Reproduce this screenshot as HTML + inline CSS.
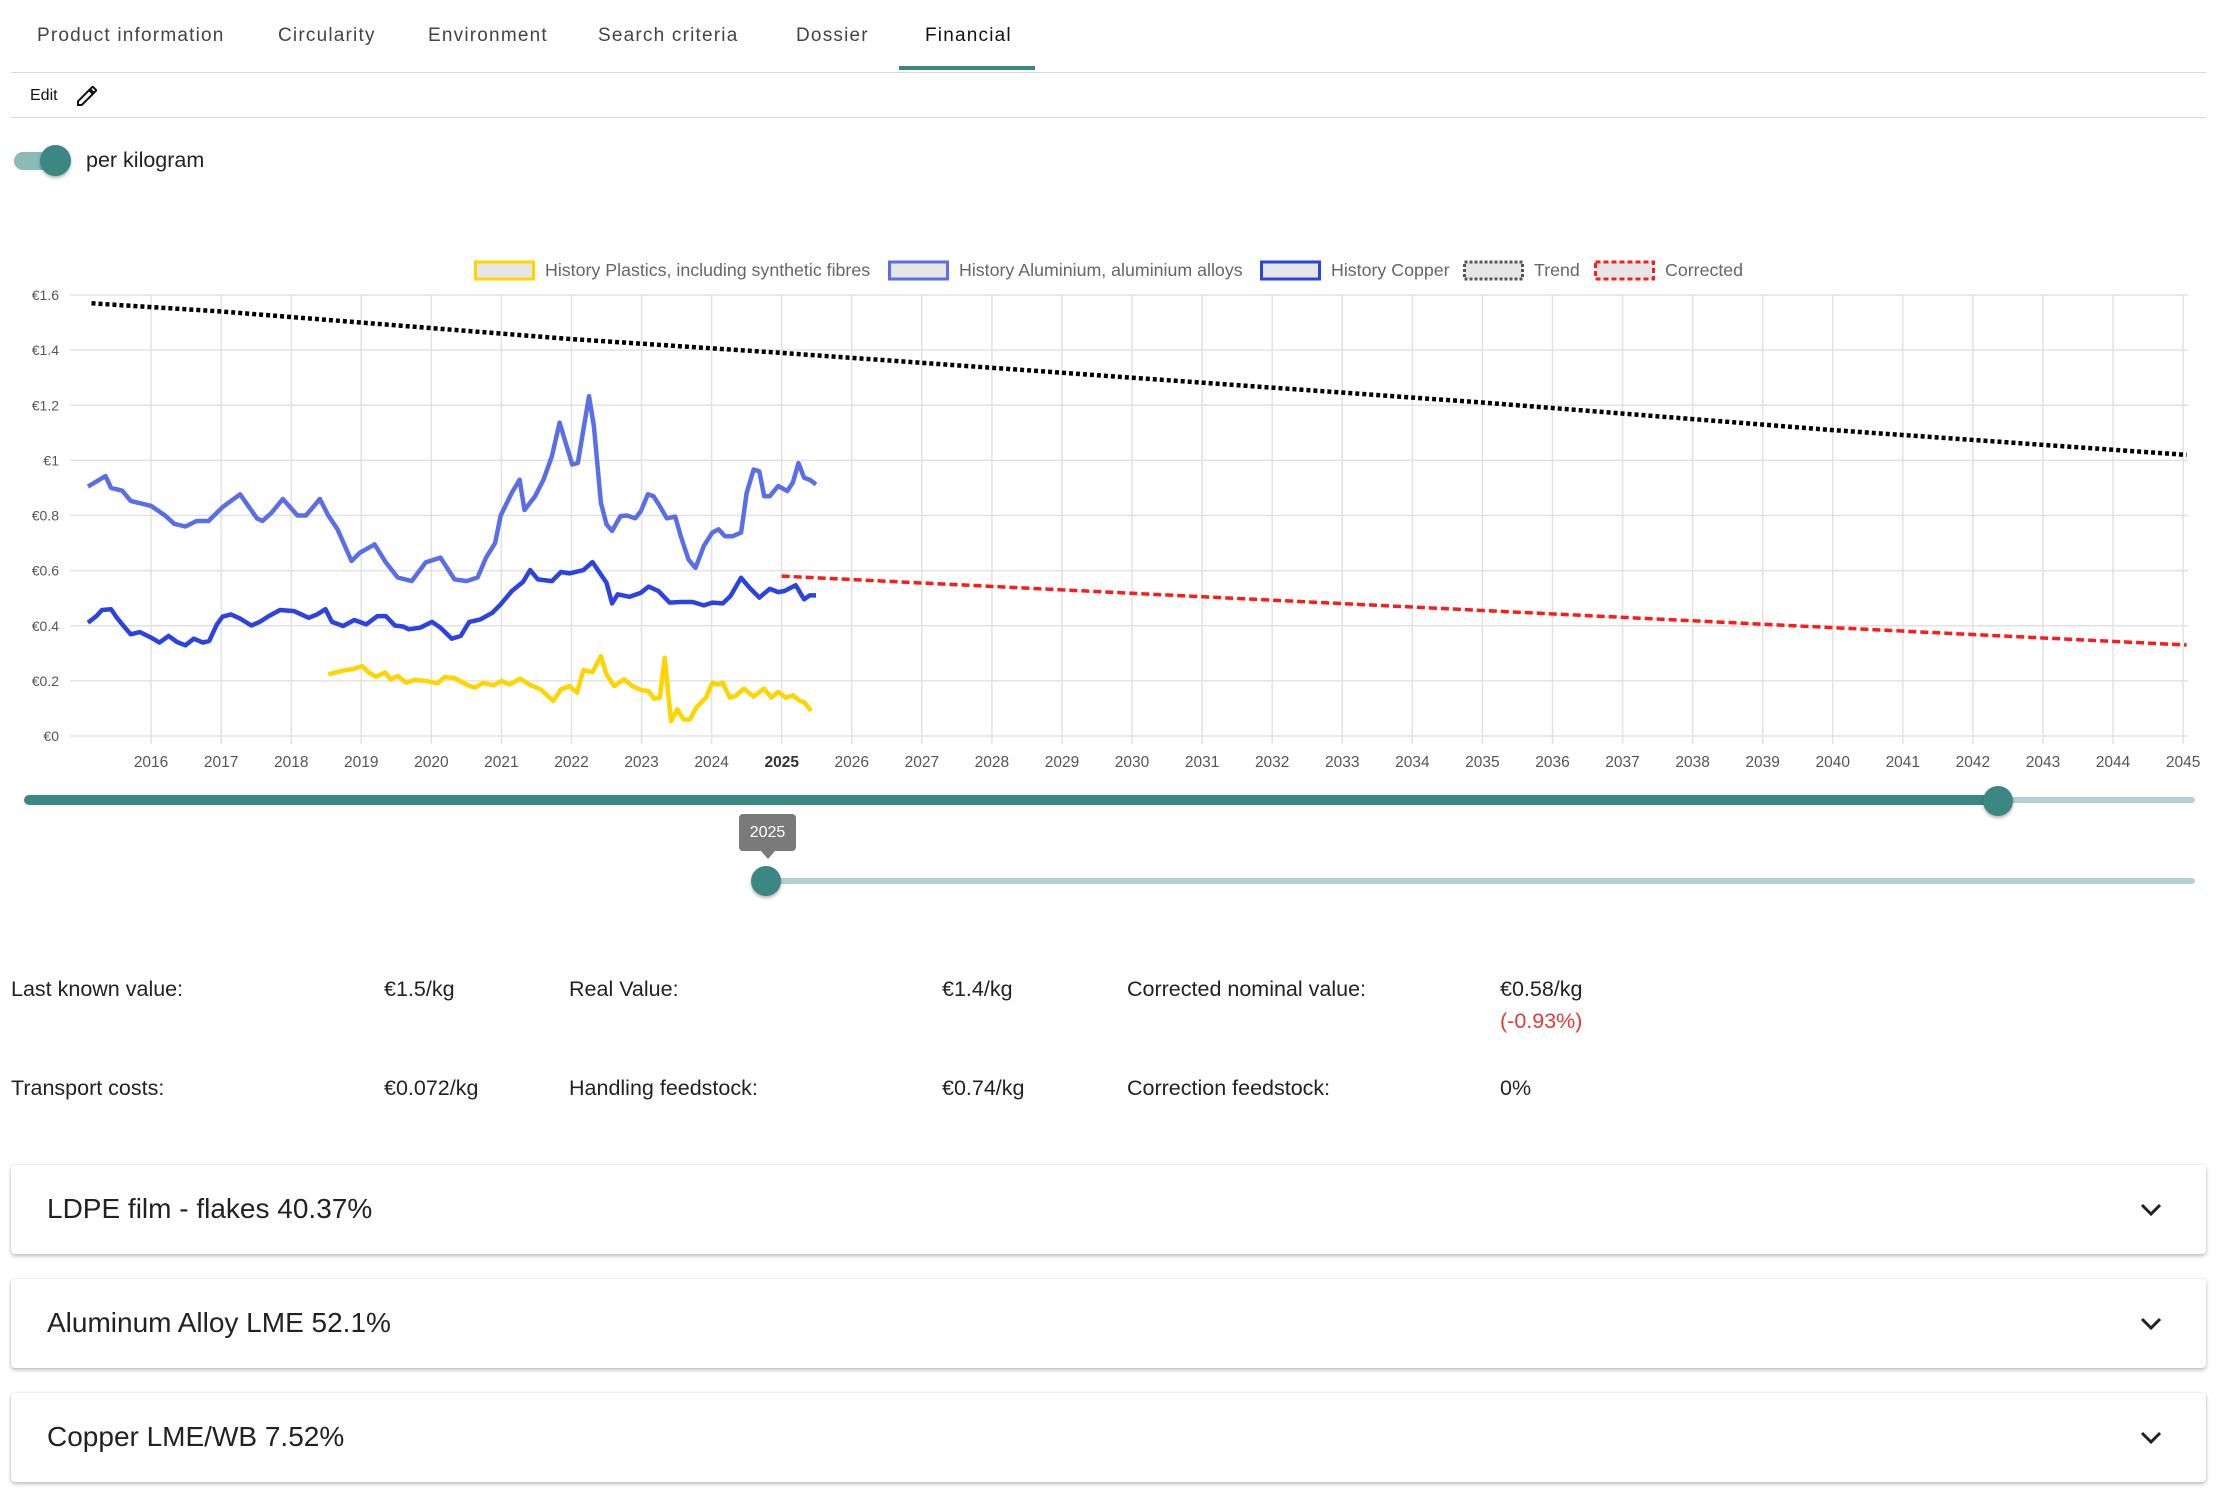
<!DOCTYPE html>
<html><head><meta charset="utf-8">
<style>
*{box-sizing:border-box;margin:0;padding:0}
body{width:2220px;height:1497px;background:#fff;font-family:"Liberation Sans",sans-serif;color:#222;position:relative;overflow:hidden}
.abs{position:absolute;white-space:nowrap}
.tab{position:absolute;top:25px;font-size:19px;color:#444;letter-spacing:1.2px}
.info{position:absolute;font-size:21.5px;color:#222}
.card{position:absolute;left:11px;width:2195px;height:89px;background:#fff;border-radius:4px;box-shadow:0 2px 4px rgba(0,0,0,0.25),0 0 2px rgba(0,0,0,0.12)}
.card span{position:absolute;left:36px;top:28px;font-size:28px;color:#222}
.card svg{position:absolute;right:44px;top:38px}
</style></head><body>
<div class="tab" style="left:37px">Product information</div>
<div class="tab" style="left:278px">Circularity</div>
<div class="tab" style="left:428px">Environment</div>
<div class="tab" style="left:598px">Search criteria</div>
<div class="tab" style="left:796px">Dossier</div>
<div class="tab" style="left:925px;color:#111">Financial</div>
<div class="abs" style="left:899px;top:66px;width:136px;height:4px;background:#3b8783"></div>
<div class="abs" style="left:11px;top:72px;width:2195px;height:1px;background:#d8d8d8"></div>
<div class="abs" style="left:30px;top:87px;font-size:16px;color:#111">Edit</div>
<svg class="abs" style="left:75px;top:84px" width="24" height="24" viewBox="0 0 24 24"><path d="M3 17.25V21h3.75L17.81 9.94l-3.75-3.75L3 17.25zM20.71 7.04a1 1 0 000-1.41l-2.34-2.34a1 1 0 00-1.41 0l-1.83 1.83 3.75 3.75 1.83-1.83z" fill="none" stroke="#111" stroke-width="2"/></svg>
<div class="abs" style="left:11px;top:117px;width:2195px;height:1px;background:#d8d8d8"></div>
<div class="abs" style="left:14px;top:152px;width:50px;height:18px;border-radius:9px;background:#8bbab7"></div>
<div class="abs" style="left:40px;top:145px;width:31px;height:31px;border-radius:50%;background:#3b8783;box-shadow:0 2px 3px rgba(0,0,0,0.3)"></div>
<div class="abs" style="left:86px;top:148px;font-size:21.5px;color:#222">per kilogram</div>

<svg id="chart" class="abs" style="left:0;top:250px" width="2220" height="530"></svg>

<div class="abs" style="left:24px;top:795px;width:1976px;height:10px;border-radius:5px;background:#3b8783"></div>
<div class="abs" style="left:2000px;top:797px;width:195px;height:6px;border-radius:3px;background:#b2d1cf"></div>
<div class="abs" style="left:1983px;top:786px;width:30px;height:30px;border-radius:50%;background:#3b8783;box-shadow:0 2px 3px rgba(0,0,0,0.3)"></div>
<div class="abs" style="left:766px;top:878px;width:1429px;height:6px;border-radius:3px;background:#b2d1cf"></div>
<div class="abs" style="left:751px;top:866px;width:30px;height:30px;border-radius:50%;background:#3b8783;box-shadow:0 2px 3px rgba(0,0,0,0.3)"></div>
<div class="abs" style="left:739px;top:814px;width:57px;height:37px;border-radius:4px;background:#7a7a7a;color:#fff;font-size:16px;text-align:center;line-height:37px">2025</div>
<div class="abs" style="left:761px;top:851px;width:0;height:0;border-left:7px solid transparent;border-right:7px solid transparent;border-top:8px solid #7a7a7a"></div>

<div class="info" style="left:11px;top:977px">Last known value:</div>
<div class="info" style="left:384px;top:977px">€1.5/kg</div>
<div class="info" style="left:569px;top:977px">Real Value:</div>
<div class="info" style="left:942px;top:977px">€1.4/kg</div>
<div class="info" style="left:1127px;top:977px">Corrected nominal value:</div>
<div class="info" style="left:1500px;top:977px">€0.58/kg</div>
<div class="info" style="left:1500px;top:1009px;color:#e53935">(-0.93%)</div>
<div class="info" style="left:11px;top:1076px">Transport costs:</div>
<div class="info" style="left:384px;top:1076px">€0.072/kg</div>
<div class="info" style="left:569px;top:1076px">Handling feedstock:</div>
<div class="info" style="left:942px;top:1076px">€0.74/kg</div>
<div class="info" style="left:1127px;top:1076px">Correction feedstock:</div>
<div class="info" style="left:1500px;top:1076px">0%</div>

<div class="card" style="top:1165px"><span>LDPE film - flakes 40.37%</span><svg width="22" height="14" viewBox="0 0 22 14"><path d="M2 2l9 9 9-9" fill="none" stroke="#222" stroke-width="3"/></svg></div>
<div class="card" style="top:1279px"><span>Aluminum Alloy LME 52.1%</span><svg width="22" height="14" viewBox="0 0 22 14"><path d="M2 2l9 9 9-9" fill="none" stroke="#222" stroke-width="3"/></svg></div>
<div class="card" style="top:1393px"><span>Copper LME/WB 7.52%</span><svg width="22" height="14" viewBox="0 0 22 14"><path d="M2 2l9 9 9-9" fill="none" stroke="#222" stroke-width="3"/></svg></div>

<script>
const yTicks=[0,0.2,0.4,0.6,0.8,1,1.2,1.4,1.6];
const yTickLabels=["€0","€0.2","€0.4","€0.6","€0.8","€1","€1.2","€1.4","€1.6"];
const xYears=[2016,2017,2018,2019,2020,2021,2022,2023,2024,2025,2026,2027,2028,2029,2030,2031,2032,2033,2034,2035,2036,2037,2038,2039,2040,2041,2042,2043,2044,2045];
const alumT=[2015.10,2015.35,2015.43,2015.59,2015.71,2016.00,2016.20,2016.33,2016.49,2016.65,2016.82,2017.02,2017.27,2017.51,2017.59,2017.72,2017.88,2018.09,2018.21,2018.41,2018.53,2018.66,2018.86,2018.98,2019.19,2019.35,2019.52,2019.72,2019.92,2020.13,2020.33,2020.50,2020.66,2020.78,2020.91,2020.99,2021.15,2021.26,2021.33,2021.48,2021.60,2021.72,2021.83,2021.93,2022.01,2022.09,2022.25,2022.32,2022.42,2022.50,2022.58,2022.70,2022.79,2022.91,2022.99,2023.09,2023.17,2023.26,2023.36,2023.48,2023.56,2023.67,2023.77,2023.89,2024.01,2024.10,2024.19,2024.30,2024.42,2024.50,2024.60,2024.68,2024.75,2024.83,2024.95,2025.08,2025.16,2025.24,2025.32,2025.40,2025.49];
const alumV=[0.905,0.943,0.90,0.89,0.853,0.835,0.80,0.77,0.76,0.78,0.78,0.83,0.877,0.79,0.78,0.81,0.86,0.80,0.80,0.86,0.80,0.75,0.635,0.665,0.695,0.63,0.575,0.562,0.63,0.647,0.568,0.562,0.575,0.647,0.70,0.80,0.883,0.93,0.82,0.87,0.93,1.015,1.137,1.052,0.985,0.99,1.233,1.124,0.846,0.768,0.744,0.798,0.80,0.79,0.816,0.877,0.87,0.834,0.79,0.796,0.725,0.64,0.61,0.69,0.738,0.75,0.725,0.725,0.738,0.883,0.967,0.96,0.87,0.87,0.907,0.889,0.92,0.99,0.937,0.93,0.913];
const copperT=[2015.10,2015.22,2015.30,2015.43,2015.51,2015.59,2015.71,2015.84,2016.00,2016.12,2016.25,2016.37,2016.49,2016.61,2016.74,2016.83,2016.94,2017.02,2017.14,2017.27,2017.43,2017.55,2017.68,2017.84,2018.04,2018.25,2018.37,2018.49,2018.58,2018.74,2018.90,2019.07,2019.23,2019.35,2019.48,2019.60,2019.68,2019.84,2020.01,2020.13,2020.29,2020.42,2020.54,2020.70,2020.87,2020.99,2021.15,2021.31,2021.41,2021.52,2021.72,2021.85,2021.97,2022.17,2022.30,2022.42,2022.50,2022.58,2022.66,2022.83,2022.99,2023.10,2023.24,2023.40,2023.56,2023.73,2023.89,2024.01,2024.16,2024.27,2024.42,2024.54,2024.68,2024.83,2024.95,2025.04,2025.20,2025.32,2025.40,2025.49];
const copperV=[0.411,0.435,0.457,0.46,0.43,0.405,0.369,0.377,0.357,0.339,0.363,0.341,0.329,0.353,0.339,0.345,0.405,0.433,0.441,0.426,0.401,0.414,0.435,0.457,0.453,0.429,0.441,0.46,0.414,0.399,0.421,0.405,0.435,0.435,0.401,0.397,0.387,0.393,0.414,0.393,0.353,0.363,0.414,0.423,0.447,0.478,0.526,0.559,0.602,0.568,0.562,0.595,0.59,0.602,0.631,0.586,0.556,0.481,0.514,0.505,0.52,0.542,0.526,0.484,0.486,0.486,0.474,0.484,0.481,0.508,0.574,0.538,0.502,0.534,0.522,0.526,0.547,0.496,0.51,0.51];
const plasticT=[2018.53,2018.66,2018.78,2018.90,2019.01,2019.11,2019.21,2019.34,2019.42,2019.52,2019.64,2019.76,2019.92,2020.09,2020.19,2020.33,2020.50,2020.62,2020.74,2020.89,2021.00,2021.11,2021.27,2021.40,2021.56,2021.74,2021.85,2021.97,2022.08,2022.17,2022.30,2022.42,2022.50,2022.61,2022.75,2022.87,2022.99,2023.10,2023.18,2023.26,2023.33,2023.42,2023.51,2023.60,2023.69,2023.78,2023.92,2024.01,2024.09,2024.16,2024.26,2024.34,2024.46,2024.60,2024.75,2024.85,2024.95,2025.06,2025.16,2025.26,2025.32,2025.42];
const plasticV=[0.224,0.232,0.239,0.244,0.254,0.23,0.215,0.23,0.206,0.218,0.193,0.203,0.2,0.191,0.214,0.21,0.187,0.175,0.193,0.184,0.2,0.187,0.208,0.187,0.169,0.127,0.169,0.181,0.157,0.239,0.232,0.29,0.224,0.181,0.206,0.181,0.167,0.163,0.135,0.139,0.284,0.054,0.097,0.06,0.06,0.103,0.139,0.193,0.187,0.193,0.139,0.145,0.172,0.143,0.172,0.139,0.16,0.139,0.148,0.127,0.123,0.091];
const trendT=[2015.15,2017,2020,2022,2025,2030,2035,2040,2045.05];
const trendV=[1.57,1.54,1.48,1.44,1.39,1.30,1.21,1.11,1.02];
const corrT=[2025,2045.05];
const corrV=[0.58,0.33];

const NS="http://www.w3.org/2000/svg";
const svg=document.getElementById('chart');
const X0=2015.0,X1=2045.07,PX0=81,PX1=2188;
const OY=250;
function xs(t){return PX0+(t-X0)/(X1-X0)*(PX1-PX0);}
function ys(v){return (736-OY)-v/1.6*(736-295);}
function mk(tag,attrs){const e=document.createElementNS(NS,tag);for(const k in attrs)e.setAttribute(k,attrs[k]);svg.appendChild(e);return e;}
yTicks.forEach((v,i)=>{
  const l=mk('line',{x1:70,x2:PX1,y1:ys(v),y2:ys(v),stroke:'#e2e2e2','stroke-width':1.5});
  
  
  const t=mk('text',{x:59,y:ys(v)+5,'text-anchor':'end','font-size':14,fill:'#555','font-family':'Liberation Sans, sans-serif'});
  t.textContent=yTickLabels[i];
  
  
});
xYears.forEach(y=>{
  const l=mk('line',{x1:xs(y),x2:xs(y),y1:ys(1.6),y2:ys(0)+8,stroke:'#e2e2e2','stroke-width':1.5});
  
  
  const t=mk('text',{x:xs(y),y:517,'text-anchor':'middle','font-size':15.5,fill:y===2025?'#333':'#555','font-weight':y===2025?'bold':'normal','font-family':'Liberation Sans, sans-serif'});
  t.textContent=String(y);
  
  
});
function series(T,V,color,w,dash,name){
  const d=T.map((t,i)=>(i?'L':'M')+xs(t).toFixed(1)+','+ys(V[i]).toFixed(1)).join('');
  const p=mk('path',{d:d,fill:'none',stroke:color,'stroke-width':w,'stroke-linejoin':'round'});
  if(dash)p.setAttribute('stroke-dasharray',dash);
  
  
}
series(trendT,trendV,'#000',4.5,'4 3','trend-line');
series(corrT,corrV,'#ff1a1a',3.5,'8 4','corrected-line');
series(alumT,alumV,'#5a6ee8',4.5,null,'aluminium-history-line');
series(copperT,copperV,'#2c43e2',4.5,null,'copper-history-line');
series(plasticT,plasticV,'#ffd500',4.5,null,'plastics-history-line');
const legend=[["History Plastics, including synthetic fibres",'#ffd500',null,474],["History Aluminium, aluminium alloys",'#5a6ee8',null,888],["History Copper",'#2c43e2',null,1260],["Trend",'#555','3 2',1463],["Corrected",'#ff1a1a','5 3',1594]];
legend.forEach(l=>{
  const r=mk('rect',{x:l[3]+1.5,y:12,width:58,height:17,fill:'#e6e6e6',stroke:l[1],'stroke-width':3});
  if(l[2])r.setAttribute('stroke-dasharray',l[2]);
  
  
  const t=mk('text',{x:l[3]+71,y:26,'font-size':17.8,fill:'#666','font-family':'Liberation Sans, sans-serif'});
  t.textContent=l[0];
  
  
});
</script>
</body></html>
